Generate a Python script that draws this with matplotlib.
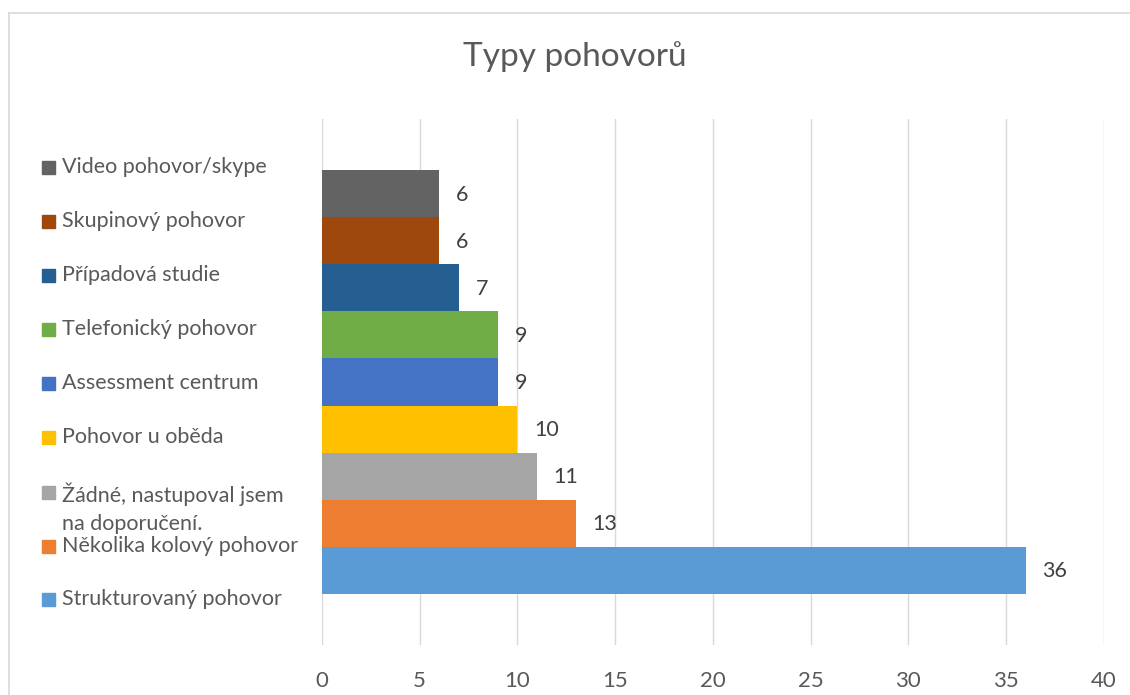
import matplotlib
matplotlib.use("Agg")
import matplotlib.pyplot as plt
from matplotlib.patches import Rectangle
from matplotlib.lines import Line2D

plt.rcParams['font.family'] = ['Lato', 'DejaVu Sans']

# series, bottom bar first
labels = [
    "Strukturovaný pohovor",
    "Několika kolový pohovor",
    "Žádné, nastupoval jsem\nna doporučení.",
    "Pohovor u oběda",
    "Assessment centrum",
    "Telefonický pohovor",
    "Případová studie",
    "Skupinový pohovor",
    "Video pohovor/skype",
]
values = [36, 13, 11, 10, 9, 9, 7, 6, 6]
colors = ["#5B9BD5", "#ED7D31", "#A5A5A5", "#FFC000", "#4472C4",
          "#70AD47", "#255E91", "#9E480E", "#636363"]
xticks = [0, 5, 10, 15, 20, 25, 30, 35, 40]
title = "Typy pohovorů"

W, H = 1130, 695
TXT = "#595959"

fig = plt.figure(figsize=(W / 100, H / 100), dpi=100)
ax = fig.add_axes([322 / W, 1 - 645 / H, (1103.7 - 322) / W, (645 - 119) / H])

pos = list(range(len(values)))
ax.barh(pos, values, height=1.0, color=colors, zorder=3)
for p, v in zip(pos, values):
    ax.annotate(str(v), (v, p), xytext=(12, -1), textcoords="offset points",
                va="center", ha="left", fontsize=15.5, color="#404040")

gap = 1.095
ax.set_ylim(-0.5 - gap, len(values) - 0.5 + gap)
ax.set_xlim(0, 40)
ax.set_xticks(xticks)
ax.set_yticks([])
ax.grid(axis="x", color="#D9D9D9", linewidth=1.0, zorder=0)
for s in ax.spines.values():
    s.set_visible(False)
ax.tick_params(axis="x", length=0, pad=19, labelsize=16, labelcolor=TXT)

fig.text(575 / W, 1 - 57 / H, title, ha="center", va="center",
         fontsize=24, color=TXT)

# legend, drawn by hand to follow the uneven row spacing
legend_rows = [599, 546, 492, 437, 383, 329, 275, 221, 167]
for lab, col, y in zip(labels, colors, legend_rows):
    fig.patches.append(Rectangle((42 / W, 1 - (y + 6.5) / H), 13 / W, 13 / H,
                                 transform=fig.transFigure, color=col))
    if "\n" in lab:
        fig.text(62 / W, 1 - (y - 10) / H, lab, ha="left", va="top",
                 fontsize=15.5, color=TXT, linespacing=1.55)
    else:
        fig.text(62 / W, 1 - y / H, lab, ha="left", va="center",
                 fontsize=15.5, color=TXT)

# chart border (cropped at right and bottom)
fig.lines.append(Line2D([9 / W, 9 / W], [0, 1 - 13 / H], transform=fig.transFigure,
                        color="#D9D9D9", linewidth=1.2))
fig.lines.append(Line2D([9 / W, 1], [1 - 13 / H, 1 - 13 / H], transform=fig.transFigure,
                        color="#D9D9D9", linewidth=1.2))

fig.savefig("out.png", dpi=100, facecolor="white")
